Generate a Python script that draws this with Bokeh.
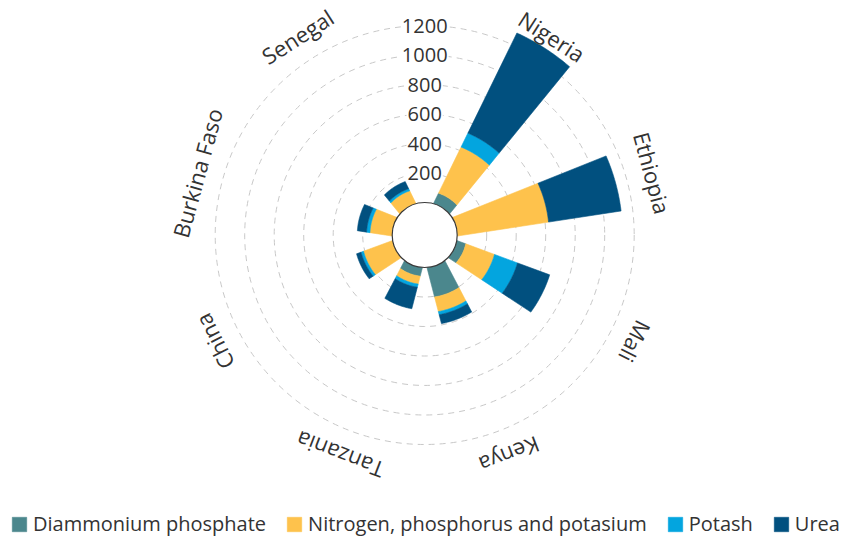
import numpy as np
from bokeh.plotting import figure
from bokeh.models import Range1d, ColumnDataSource, Legend, LegendItem
from bokeh.core.properties import value
from bokeh.embed import file_html
from bokeh.resources import INLINE

# ---------------- data ----------------
categories = ["Nigeria", "Ethiopia", "Mali", "Kenya", "Tanzania", "China", "Burkina Faso", "Senegal"]
diammonium_phosphate = [78, 0, 64, 205, 60, 0, 0, 0]
npk = [347, 624, 207, 102, 55, 209, 151, 96]
potash = [105, 0, 166, 22, 22, 18, 23, 16]
urea = [755, 497, 232, 62, 150, 32, 63, 53]
series_names = ["Diammonium phosphate", "Nitrogen, phosphorus and potasium", "Potash", "Urea"]
series_colors = ["#4b878d", "#fec24c", "#03a5df", "#01507f"]
ring_values = [200, 400, 600, 800, 1000, 1200]

# ---------------- scales / layout ----------------
W, H = 847, 537
CX, CY = 424.2, 234.5          # chart centre in frame pixels (from top-left)
PX = 0.1475                    # pixels per value unit (radial scale)
HOLE = 32.5 / PX               # inner hole radius, in value units
BAND_PAD = 0.55                # band padding of the angular scale
EDGE_A, EDGE_B = 6.0, 0.115    # bar side geometry (px offset, slope)
LABEL_R = 236 / PX
FONT = value("Open Sans")
TXT = "#333333"

n = len(categories)
step = 2 * np.pi / (n + BAND_PAD)
theta = step * ((1 + BAND_PAD) / 2 + np.arange(n))   # clockwise from north


def edge_angle(R):
    a = EDGE_A / PX
    b = EDGE_B
    s = (-a * b + np.sqrt(a * a * b * b - (1 + b * b) * (a * a - R * R))) / (1 + b * b)
    return np.arctan2(a + b * s, s)


def segment(th, r1, r2, m=40):
    f1, f2 = edge_angle(r1), edge_angle(r2)
    t_out = np.linspace(th + f2, th - f2, m)
    t_in = np.linspace(th - f1, th + f1, m)
    xs = np.concatenate([r2 * np.sin(t_out), r1 * np.sin(t_in)])
    ys = np.concatenate([r2 * np.cos(t_out), r1 * np.cos(t_in)])
    return list(xs), list(ys)


p = figure(width=W, height=H, output_backend="svg", toolbar_location=None,
           x_range=Range1d(-CX / PX, (W - CX) / PX),
           y_range=Range1d(-(H - CY) / PX, CY / PX),
           x_axis_location=None, y_axis_location=None,
           min_border=0, outline_line_color=None,
           background_fill_color="white", border_fill_color="white")
p.grid.visible = False

# dashed rings
p.circle(x=[0] * len(ring_values), y=[0] * len(ring_values),
         radius=[HOLE + v for v in ring_values],
         fill_color=None, line_color="#c8c8c8", line_width=1, line_dash="6 5")

# stacked radial bars
series = [diammonium_phosphate, npk, potash, urea]
base = np.zeros(n)
renderers = []
for vals, color in zip(series, series_colors):
    xs, ys = [], []
    for i in range(n):
        if vals[i] > 0:
            sx, sy = segment(theta[i], HOLE + base[i], HOLE + base[i] + vals[i])
            xs.append(sx)
            ys.append(sy)
    base = base + np.array(vals, dtype=float)
    r = p.patches(xs="xs", ys="ys", source=ColumnDataSource(dict(xs=xs, ys=ys)),
                  fill_color=color, line_color=color, line_width=0.6)
    renderers.append(r)

# inner hole
p.circle(x=[0], y=[0], radius=HOLE, fill_color="white", line_color="#3a3a3a", line_width=1.2)

# radial tick labels
p.text(x=[0] * len(ring_values), y=[HOLE + v for v in ring_values],
       text=[str(v) for v in ring_values],
       text_align="center", text_baseline="middle",
       text_font=FONT, text_font_size="20px", text_color=TXT,
       background_fill_color="white", padding=1)

# category labels (tangent, reading clockwise)
p.text(x=list(LABEL_R * np.sin(theta)), y=list(LABEL_R * np.cos(theta)),
       text=categories, angle=list(-theta),
       text_align="center", text_baseline="middle",
       text_font=FONT, text_font_size="22px", text_color=TXT)

legend = Legend(items=[LegendItem(label=nm, renderers=[r]) for nm, r in zip(series_names, renderers)],
                orientation="horizontal", location=(10, 0),
                glyph_width=18, glyph_height=18, label_standoff=5, spacing=19,
                padding=0, margin=0, border_line_color=None, background_fill_alpha=0,
                label_text_font="Open Sans", label_text_font_size="20px",
                label_text_color=TXT)
p.add_layout(legend)

open("out.html", "w").write(file_html(p, INLINE))
